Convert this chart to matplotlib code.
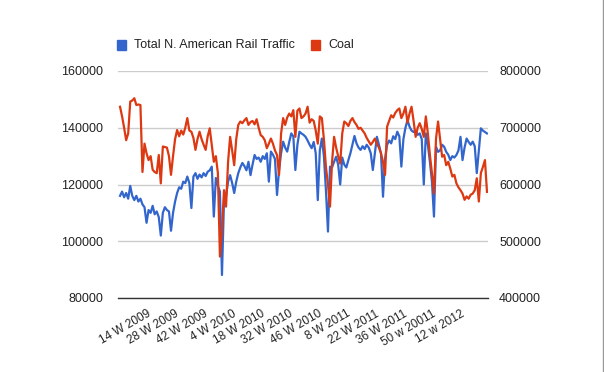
import matplotlib.pyplot as plt
from matplotlib.patches import Rectangle
from matplotlib.lines import Line2D
from matplotlib.transforms import ScaledTranslation

plt.rcParams['font.family'] = ['Liberation Sans', 'DejaVu Sans']

# weekly values, week 1 of 2009 onward
rail_traffic = [
    116000, 117500, 115500, 117000, 115000, 119500, 116000, 114500, 116000, 114000,
    115000, 113000, 112000, 106500, 111000, 110000, 112500, 109500, 110500, 108500,
    102000, 110000, 112000, 111000, 110500, 103700, 110000, 114000, 117000, 119000,
    118500, 121000, 120500, 122800, 120500, 111700, 122800, 124000, 122000, 123500,
    122500, 124000, 123000, 124500, 125000, 126300, 108700, 122300, 119500, 117500,
    88100, 114500, 116000, 121000, 123300, 120500, 117000, 121000, 124000, 126000,
    127600, 126500, 125000, 128000, 123300, 127000, 130400, 129000, 129500, 128000,
    130000, 129000, 131000, 121000, 131600, 130500, 129000, 116300, 125000, 131000,
    135100, 133000, 131600, 135000, 138000, 137000, 125100, 134000, 138600, 138000,
    137500, 136800, 135500, 134000, 132800, 135000, 131000, 114500, 132000, 136200,
    130000, 118000, 103400, 126300, 126000, 128000, 129800, 127000, 120000, 129500,
    127000, 126000, 128600, 131000, 134000, 137100, 134500, 133000, 132200, 133500,
    132500, 134000, 133000, 131000, 125100, 131000, 136800, 134000, 131000, 115700,
    129000, 134000, 135500, 134500, 137000, 136000, 138600, 137000, 126300, 136000,
    140000, 142700, 140400, 139000, 138500, 139000, 137500, 138000, 136000, 120000,
    138000, 134000, 128000, 121000, 108700, 133300, 131500, 132000, 134000, 133300,
    131500, 130500, 128600, 130000, 129500, 130400, 132000, 136800, 128600, 133000,
    136200, 135000, 134000, 135100, 133500, 124000, 132000, 139800, 139000, 138500,
    138000,
]

coal = [
    737000, 720000, 700000, 678000, 690000, 746000, 748000, 752000, 740000, 741000,
    740000, 622000, 672000, 655000, 643000, 650000, 626000, 622000, 620000, 652000,
    602000, 667000, 666000, 665000, 650000, 617000, 650000, 680000, 696000, 685000,
    695000, 688000, 700000, 717000, 695000, 693000, 682000, 661000, 680000, 693000,
    680000, 670000, 661000, 685000, 699000, 670000, 640000, 650000, 620000, 473000,
    520000, 590000, 561000, 640000, 684000, 660000, 634000, 680000, 705000, 711000,
    708000, 713000, 717000, 705000, 710000, 712000, 706000, 715000, 700000, 687000,
    684000, 678000, 664000, 672000, 681000, 672000, 660000, 652000, 617000, 690000,
    717000, 705000, 718000, 725000, 720000, 731000, 684000, 730000, 734000, 717000,
    720000, 725000, 737000, 709000, 715000, 712000, 695000, 672000, 720000, 717000,
    680000, 631000, 600000, 561000, 640000, 684000, 665000, 650000, 637000, 690000,
    711000, 708000, 703000, 712000, 717000, 710000, 705000, 698000, 700000, 695000,
    690000, 682000, 676000, 670000, 675000, 681000, 672000, 665000, 655000, 640000,
    617000, 702000, 712000, 722000, 718000, 726000, 731000, 734000, 717000, 725000,
    737000, 709000, 725000, 737000, 712000, 684000, 700000, 708000, 698000, 684000,
    720000, 690000, 652000, 620000, 584000, 681000, 711000, 680000, 649000, 652000,
    634000, 640000, 628000, 614000, 617000, 602000, 595000, 590000, 584000, 573000,
    579000, 575000, 582000, 584000, 590000, 611000, 570000, 620000, 631000, 643000,
    587000,
]

tick_pos = [13, 27, 41, 55, 69, 83, 97, 111, 125, 139, 153, 167]
tick_labels = ['14 W 2009', '28 W 2009', '42 W 2009', '4 W 2010', '18 W 2010',
               '32 W 2010', '46 W 2010', '8 W 2011', '22 W 2011', '36 W 2011',
               '50 w 20011', '12 w 2012']

left_ticks = [80000, 100000, 120000, 140000, 160000]
right_ticks = [400000, 500000, 600000, 700000, 800000]

blue = '#3366cc'
red = '#dc3912'
txt = '#222222'

fig = plt.figure(figsize=(6.04, 3.72), dpi=100)
ax = fig.add_axes([118 / 604, 1 - 298 / 372, 370 / 604, 227 / 372])
ax2 = ax.twinx()

x = list(range(len(rail_traffic)))
ax.plot(x, rail_traffic, color=blue, lw=1.6, zorder=3)
ax2.plot(x, coal, color=red, lw=1.6, zorder=3)

ax.set_xlim(-1, 180.5)
ax.set_ylim(80000, 160000)
ax2.set_ylim(400000, 800000)
ax.set_yticks(left_ticks)
ax.set_yticklabels([str(v) for v in left_ticks])
ax2.set_yticks(right_ticks)
ax2.set_yticklabels([str(v) for v in right_ticks])

ax.set_xticks(tick_pos)
ax.set_xticklabels(tick_labels, rotation=30, ha='right', rotation_mode='anchor')
shift = ScaledTranslation(5 / 100, 0, fig.dpi_scale_trans)
for lab in ax.get_xticklabels():
    lab.set_transform(lab.get_transform() + shift)

ax.grid(axis='y', color='#cccccc', lw=1)
ax.set_axisbelow(True)
for a in (ax, ax2):
    for s in a.spines.values():
        s.set_visible(False)
ax.spines['bottom'].set_visible(True)
ax.spines['bottom'].set_color('#333333')
ax.spines['bottom'].set_linewidth(1)

ax.tick_params(axis='y', length=0, pad=10.5, labelsize=9, labelcolor=txt)
ax2.tick_params(axis='y', length=0, pad=8, labelsize=9, labelcolor=txt)
ax.tick_params(axis='x', length=0, pad=7, labelsize=8.5, labelcolor=txt)

# legend across the top
fig.patches.append(Rectangle((117 / 604, 1 - 50 / 372), 9 / 604, 10 / 372,
                             transform=fig.transFigure, color=blue))
fig.text(134 / 604, 1 - 45 / 372, 'Total N. American Rail Traffic',
         va='center', fontsize=9, color=txt)
fig.patches.append(Rectangle((311 / 604, 1 - 50 / 372), 9 / 604, 10 / 372,
                             transform=fig.transFigure, color=red))
fig.text(328 / 604, 1 - 45 / 372, 'Coal', va='center', fontsize=9, color=txt)

# screenshot edge
fig.lines.append(Line2D([602.5 / 604, 602.5 / 604], [0, 1], transform=fig.transFigure,
                        color='#999999', lw=1))

fig.savefig('out.png', dpi=100)
